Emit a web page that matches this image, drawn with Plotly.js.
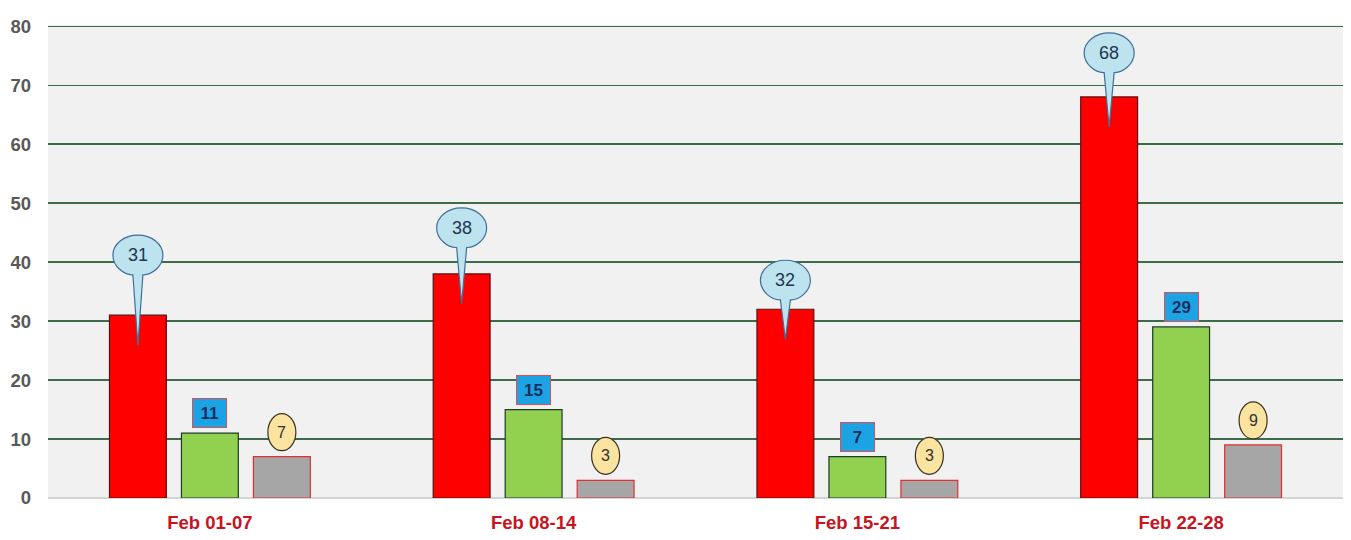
<!DOCTYPE html>
<html>
<head>
<meta charset="utf-8">
<script src="https://cdn.plot.ly/plotly-3.0.1.min.js"></script>
<style>html,body{margin:0;padding:0;background:#fff;}#chart{width:1351px;height:540px;}</style>
</head>
<body>
<div id="chart"></div>
<script>
// ---- data ----
const categories = ["Feb 01-07", "Feb 08-14", "Feb 15-21", "Feb 22-28"];
const redValues = [31, 38, 32, 68];
const greenValues = [11, 15, 7, 29];
const grayValues = [7, 3, 3, 9];
const yTickValues = [0, 10, 20, 30, 40, 50, 60, 70, 80];

// ---- style / layout config ----
const BARGAP = 0.333, BARGROUPGAP = 0.21;
const calloutLift = [60, 46, 29, 44]; // px from bar top to callout centre
const FONT = "Liberation Sans, Arial, sans-serif";

const slot = (1 - BARGAP) / 3;
const idx = categories.map((c, i) => i);
const offsets = [-slot, 0, slot];

const traces = [
  {x: idx, y: redValues, type: "bar", marker: {color: "#ff0000", line: {color: "#5a1010", width: 1.2}}, hoverinfo: "y"},
  {x: idx, y: greenValues, type: "bar", marker: {color: "#92d050", line: {color: "#1e3a2a", width: 1.2}}, hoverinfo: "y"},
  {x: idx, y: grayValues, type: "bar", marker: {color: "#a6a6a6", line: {color: "#e03030", width: 1.2}}, hoverinfo: "y"}
];

const shapes = [];
const annotations = [];
const k = 0.5523, rx = 25, ry = 20, tb = 5, tip = -30;

function calloutPath(h) {
  const yb = h - ry * 0.98;
  const p = [
    `M ${tb},${yb}`,
    `C ${k*rx},${h-ry} ${rx},${h-k*ry} ${rx},${h}`,
    `C ${rx},${h+k*ry} ${k*rx},${h+ry} 0,${h+ry}`,
    `C ${-k*rx},${h+ry} ${-rx},${h+k*ry} ${-rx},${h}`,
    `C ${-rx},${h-k*ry} ${-k*rx},${h-ry} ${-tb},${yb}`,
    `L 0,${tip} Z`
  ];
  return p.join(" ");
}

idx.forEach((i) => {
  // red callouts
  const xr = i + offsets[0];
  shapes.push({
    type: "path", xref: "x", yref: "y", xsizemode: "pixel", ysizemode: "pixel",
    xanchor: xr, yanchor: redValues[i], path: calloutPath(calloutLift[i]),
    fillcolor: "#bde3ee", line: {color: "#3f6f9a", width: 1.2}, layer: "above"
  });
  annotations.push({
    x: xr, y: redValues[i], xref: "x", yref: "y", yshift: calloutLift[i],
    text: String(redValues[i]), showarrow: false,
    font: {family: FONT, size: 18, color: "#1f3550"}
  });
  // green labels (blue boxes)
  const xg = i + offsets[1];
  annotations.push({
    x: xg, y: greenValues[i], xref: "x", yref: "y", yanchor: "bottom", yshift: 5,
    text: "<b>" + greenValues[i] + "</b>", showarrow: false,
    bgcolor: "#1ba3e4", bordercolor: "#e05050", borderwidth: 1, borderpad: 0,
    width: 33, height: 28,
    font: {family: FONT, size: 17, color: "#1a2f60"}
  });
  // gray labels (yellow ellipses)
  const xy = i + offsets[2];
  shapes.push({
    type: "circle", xref: "x", yref: "y", xsizemode: "pixel", ysizemode: "pixel",
    xanchor: xy, yanchor: grayValues[i], x0: -14, x1: 14, y0: 6, y1: 43,
    fillcolor: "#fbe3a0", line: {color: "#3a3020", width: 1.2}, layer: "above"
  });
  annotations.push({
    x: xy, y: grayValues[i], xref: "x", yref: "y", yshift: 24.5,
    text: String(grayValues[i]), showarrow: false,
    font: {family: FONT, size: 16, color: "#303030"}
  });
});

const layout = {
  width: 1351, height: 540,
  margin: {l: 48, r: 8, t: 25, b: 42},
  paper_bgcolor: "#ffffff", plot_bgcolor: "#f1f1f1",
  barmode: "group", bargap: BARGAP, bargroupgap: BARGROUPGAP,
  showlegend: false,
  xaxis: {
    type: "linear", range: [-0.5, categories.length - 0.5],
    tickvals: idx, ticktext: categories, showgrid: false, zeroline: false,
    ticks: "", ticklabelstandoff: 11,
    tickfont: {family: FONT, size: 18.5, color: "#c8141e", weight: "bold"},
    fixedrange: true
  },
  yaxis: {
    range: [0, 80.2], tickvals: yTickValues, showgrid: true,
    gridcolor: "#3d6b4a", gridwidth: 1.3,
    zeroline: true, zerolinecolor: "#d4d4d4", zerolinewidth: 1.5,
    ticks: "", ticklabelstandoff: 16,
    tickfont: {family: FONT, size: 18.5, color: "#595959", weight: "bold"},
    fixedrange: true
  },
  shapes: shapes, annotations: annotations
};

Plotly.newPlot("chart", traces, layout, {displayModeBar: false, staticPlot: true});
</script>
</body>
</html>
